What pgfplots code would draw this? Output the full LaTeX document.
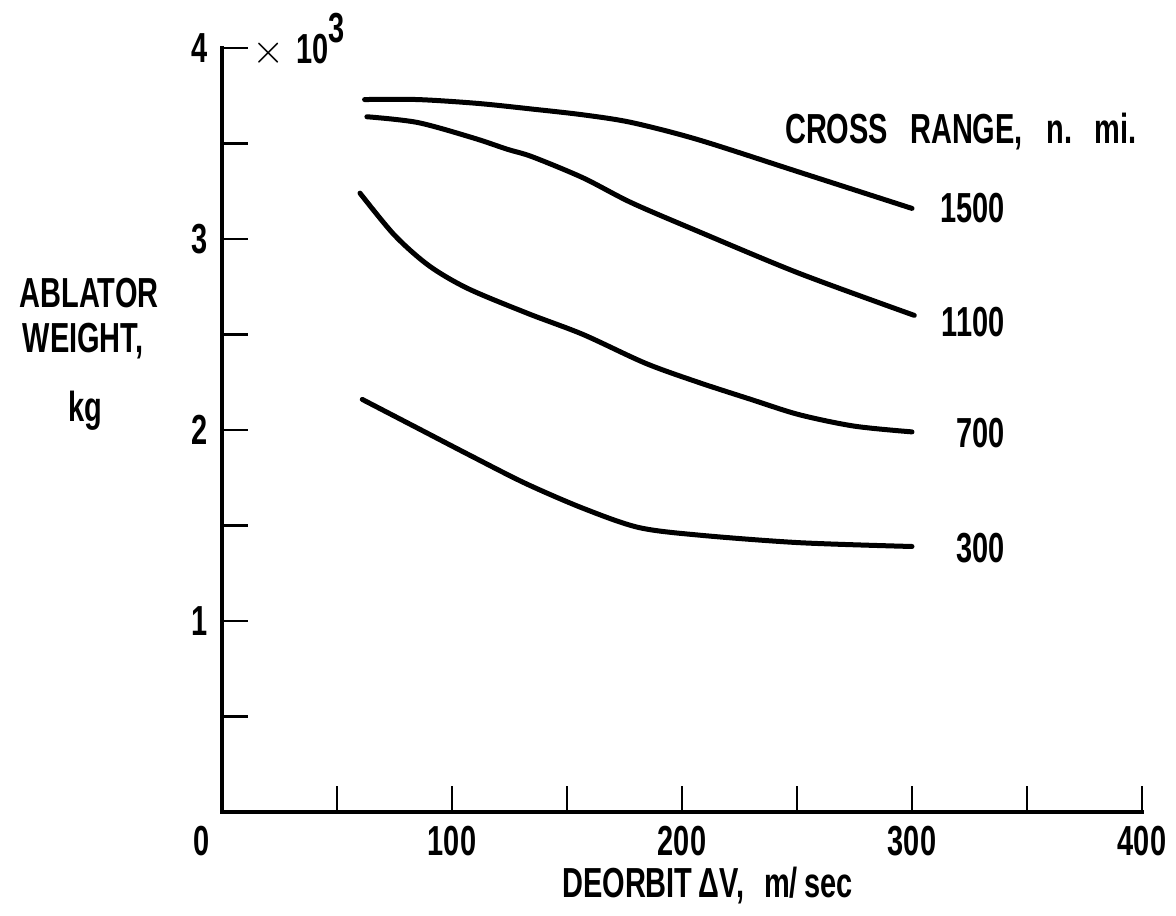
\documentclass[border=0pt]{standalone}
\usepackage{pgfplots}
\pgfplotsset{compat=1.18}
\usepackage{fontspec}
\setmainfont{Liberation Sans}[FakeStretch=0.69, UprightFont=*-Bold]
\begin{document}
\begin{tikzpicture}[font=\fontsize{21}{25}\selectfont]
\begin{axis}[
  scale only axis, width=460pt, height=382pt,
  xmin=0, xmax=400, ymin=0, ymax=4,
  axis lines*=left,
  axis line style={line width=2pt, line cap=rect},
  tick align=inside,
  major tick length=13pt, minor tick length=13pt,
  every tick/.style={line width=1.3pt, black},
  xtick={0,100,200,300,400},
  xticklabels={\llap{0\hspace{6pt}},100,200,300,400},
  minor xtick={50,150,250,350},
  ytick={1,2,3,4}, yticklabels={1,2,3,4},
  minor ytick={0.5,1.5,2.5,3.5},
  xticklabel style={inner sep=0pt, yshift=-7pt},
  yticklabel style={inner sep=0pt, xshift=-7pt},
  clip=false,
]
% 1500
\addplot[black, line width=2.5pt, smooth, tension=0.5, line cap=round] coordinates {
(62,3.73) (85,3.73) (111,3.71) (135,3.68) (157,3.65) (178,3.61) (207,3.52) (251,3.35) (300,3.16)};
% 1100
\addplot[black, line width=2.5pt, smooth, tension=0.5, line cap=round] coordinates {
(63,3.64) (85,3.61) (109,3.53) (124,3.47) (135,3.43) (157,3.32) (178,3.19) (207,3.04) (251,2.82) (301,2.60)};
% 700
\addplot[black, line width=2.5pt, smooth, tension=0.5, line cap=round] coordinates {
(60,3.24) (75,3.02) (90,2.86) (107,2.74) (133,2.61) (157,2.50) (184,2.35) (207,2.25) (230,2.16) (251,2.08) (275,2.02) (300,1.99)};
% 300
\addplot[black, line width=2.5pt, smooth, tension=0.5, line cap=round] coordinates {
(61,2.16) (85,2.01) (109,1.86) (132,1.72) (157,1.59) (181,1.49) (207,1.45) (251,1.41) (300,1.39)};

\node[anchor=east, inner sep=0pt] at (axis cs:340.4,3.162) {1500};
\node[anchor=east, inner sep=0pt] at (axis cs:340.4,2.565) {1100};
\node[anchor=east, inner sep=0pt] at (axis cs:340.4,1.984) {700};
\node[anchor=east, inner sep=0pt] at (axis cs:340.4,1.382) {300};
\node[anchor=east, inner sep=0pt] at (axis cs:397.8,3.565) {CROSS\hspace{11pt}RANGE,\hspace{12pt}n.\hspace{11pt}mi.};

\node[anchor=base west, inner sep=0pt] at (axis cs:13,3.921) {$\times$\hspace{6pt}10\raisebox{10.5pt}{3}};

\node[anchor=base, inner sep=0pt] at (axis cs:-57.8,2.639) {ABLATOR};
\node[anchor=base, inner sep=0pt] at (axis cs:-60.4,2.408) {WEIGHT,};
\node[anchor=base, inner sep=0pt] at (axis cs:-59.6,2.042) {kg};

\node[anchor=base, inner sep=0pt] at (axis cs:211,-0.450) {DEORBIT\hspace{3pt}ΔV,\hspace{10pt}m/\hspace{3pt}sec};

\path (axis cs:-96.52,-0.5445) rectangle (axis cs:414.78,4.2513);
\end{axis}
\end{tikzpicture}
\end{document}
